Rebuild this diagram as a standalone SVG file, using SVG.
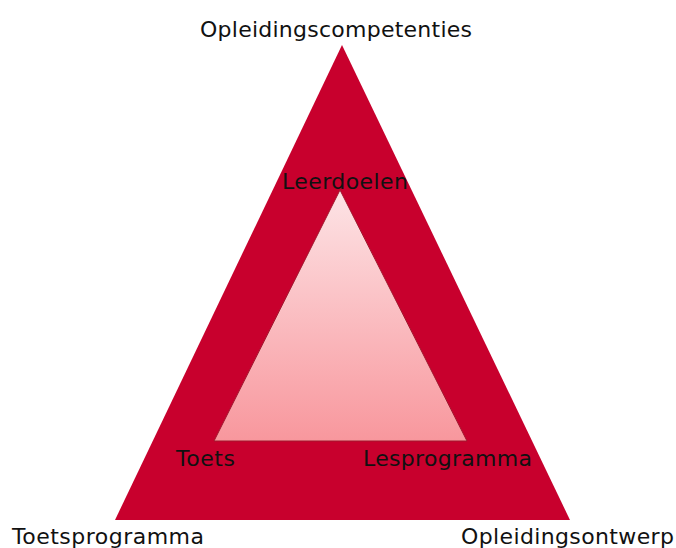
<svg xmlns="http://www.w3.org/2000/svg" width="676" height="548" viewBox="0 0 676 548">
<style>
text{font-family:"DejaVu Sans",Verdana,sans-serif;font-size:22px;fill:#111}
</style>
<defs>
<linearGradient id="g" x1="0" y1="0" x2="0" y2="1">
<stop offset="0" stop-color="#fde4e6"/>
<stop offset="1" stop-color="#f8979d"/>
</linearGradient>
</defs>
<rect width="676" height="548" fill="#fff"/>
<g id="outer"><polygon points="342,45 115,520 570,520" fill="#c8002d"/></g>
<g id="inner"><polygon points="340,190 214,441 467,441" fill="url(#g)" stroke="#a0192f" stroke-width="1"/></g>
<g id="labels">
<text x="336" y="37" text-anchor="middle" textLength="272">Opleidingscompetenties</text>
<text x="345" y="189" text-anchor="middle" textLength="126">Leerdoelen</text>
<text x="176" y="466" textLength="59">Toets</text>
<text x="363" y="466" textLength="169">Lesprogramma</text>
<text x="12" y="544" textLength="192">Toetsprogramma</text>
<text x="461" y="544" textLength="213">Opleidingsontwerp</text>
</g>
</svg>
